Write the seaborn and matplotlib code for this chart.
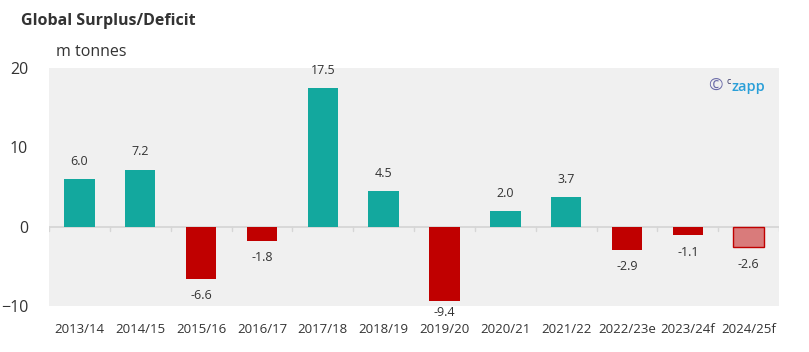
import numpy as np
import pandas as pd
import matplotlib.pyplot as plt
import seaborn as sns

seasons = ['2013/14', '2014/15', '2015/16', '2016/17', '2017/18', '2018/19',
           '2019/20', '2020/21', '2021/22', '2022/23e', '2023/24f', '2024/25f']
balance = [6.0, 7.2, -6.6, -1.8, 17.5, 4.5, -9.4, 2.0, 3.7, -2.9, -1.1, -2.6]

teal = '#13a89e'
red = '#c00000'
colors = [teal if v >= 0 else red for v in balance]
colors[-1] = '#d97b7b'

df = pd.DataFrame({'season': seasons, 'value': balance})

sns.set_style('white')
plt.rcParams['font.family'] = ['Open Sans', 'DejaVu Sans']

fig = plt.figure(figsize=(8.09, 3.52), dpi=100)
ax = fig.add_axes([0.0606, 0.1307, 0.9024, 0.6761])
ax.set_facecolor('#f0f0f0')

sns.barplot(data=df, x='season', y='value', hue='season', palette=colors,
            legend=False, width=0.5, ax=ax, saturation=1)
for i, p in enumerate(ax.patches):
    if i == len(balance) - 1:
        p.set_edgecolor(red)
        p.set_linewidth(1)
    else:
        p.set_edgecolor('none')

# value labels above/below bars
for i, v in enumerate(balance):
    if v >= 0:
        ax.text(i, v + 1.4, f'{v:.1f}', ha='center', va='bottom', fontsize=9, color='#333333')
    else:
        ax.text(i, max(v - 1.3, -10.05), f'{v:.1f}', ha='center', va='top', fontsize=9,
                color='#333333', clip_on=False)

ax.set_ylim(-10, 20)
ax.set_xlim(-0.5, len(seasons) - 0.5)
ax.set_yticks([-10, 0, 10, 20])
ax.set_xlabel('')
ax.set_ylabel('')
ax.axhline(0, color='#d6d6d6', lw=1.3, zorder=0.5)
for k in range(len(seasons) + 1):
    ax.plot([k - 0.5, k - 0.5], [0, -0.5], color='#d6d6d6', lw=1, zorder=0.5)
for s in ax.spines.values():
    s.set_visible(False)
ax.tick_params(axis='y', labelsize=11.5, colors='#333333', length=0, pad=15)
ax.tick_params(axis='x', labelsize=9.5, colors='#333333', length=0, pad=12)

fig.text(0.026, 0.94, 'Global Surplus/Deficit', fontsize=11.5, fontweight='bold',
         color='#333333', va='center')
fig.text(0.069, 0.852, 'm tonnes', fontsize=11.5, color='#333333', va='center')

# watermark
ax.text(0.923, 0.922, '©', transform=ax.transAxes, fontsize=12.5, color='#6a6aa8',
        ha='right', va='center')
ax.text(0.928, 0.925, 'c', transform=ax.transAxes, fontsize=6.5, color='#3a3a6a',
        ha='left', va='bottom')
ax.text(0.935, 0.92, 'zapp', transform=ax.transAxes, fontsize=10.5, color='#2a9fd8',
        fontweight='semibold', ha='left', va='center')

fig.savefig('out.png', dpi=100)
